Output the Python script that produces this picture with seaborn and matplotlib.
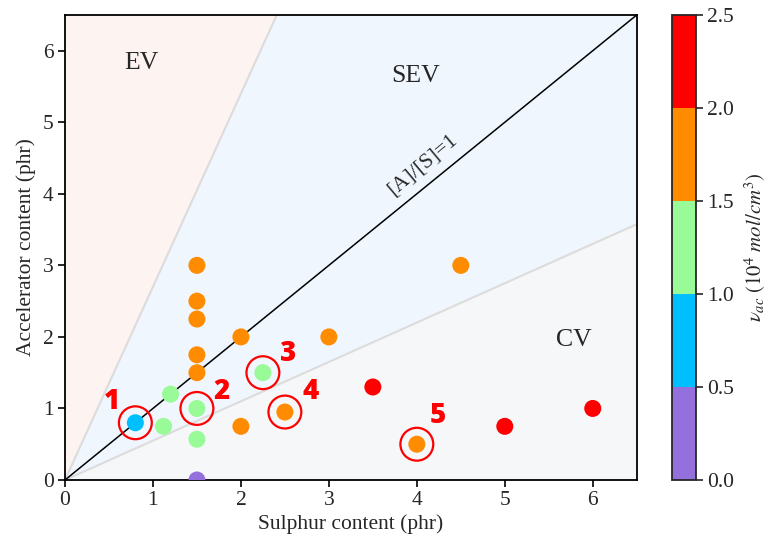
import numpy as np
import pandas as pd
import matplotlib
matplotlib.use("Agg")
import matplotlib.pyplot as plt
from matplotlib.colors import ListedColormap, BoundaryNorm
from matplotlib.cm import ScalarMappable
import seaborn as sns

# Cure formulations: sulphur / accelerator loadings and crosslink density
sulphur = [0.8, 1.12, 1.2, 1.5, 1.5, 1.5, 1.5, 1.5, 1.5, 1.5, 1.5,
           2.0, 2.0, 2.25, 2.5, 3.0, 3.5, 4.0, 4.5, 5.0, 6.0]
accelerator = [0.8, 0.75, 1.2, 1.0, 0.57, 0.0, 1.5, 1.75, 2.25, 2.5, 3.0,
               2.0, 0.75, 1.5, 0.95, 2.0, 1.3, 0.5, 3.0, 0.75, 1.0]
nu_ac = [0.8, 1.2, 1.3, 1.25, 1.2, 0.3, 1.7, 1.75, 1.8, 1.85, 1.9,
         1.8, 1.7, 1.3, 1.75, 1.8, 2.2, 1.6, 1.7, 2.3, 2.2]

# Highlighted samples and their labels
hl_x = [0.8, 1.5, 2.25, 2.5, 4.0]
hl_y = [0.8, 1.0, 1.5, 0.95, 0.5]
hl_labels = ["1", "2", "3", "4", "5"]
hl_label_x = [0.54, 1.78, 2.54, 2.79, 4.24]
hl_label_y = [1.1, 1.23, 1.77, 1.23, 0.9]

# Colour bands for the crosslink density
band_edges = [0.0, 0.5, 1.0, 1.5, 2.0, 2.5]
band_colors = ["#9370DB", "#00BFFF", "#98FB98", "#FF8C00", "#FF0000"]

# Cure-system boundaries ([A]/[S] ratios)
ev_ratio = 2.7
cv_ratio = 0.55
lim = 6.5

sns.set_theme(style="ticks")
plt.rcParams["font.family"] = ["Liberation Serif", "DejaVu Serif"]
plt.rcParams["mathtext.fontset"] = "stix"

cmap = ListedColormap(band_colors)
norm = BoundaryNorm(band_edges, cmap.N)

fig = plt.figure(figsize=(7.69, 5.42), dpi=100)
ax = fig.add_axes([0.0845, 0.1144, 0.7435, 0.858])
cax = fig.add_axes([0.874, 0.1144, 0.031, 0.858])

# Region shading
ax.fill([0, 0, lim / ev_ratio], [0, lim, lim], color="#fdf3f0", lw=0, zorder=0)
ax.fill([0, lim / ev_ratio, lim, lim], [0, lim, lim, lim * cv_ratio],
        color="#f0f6fd", lw=0, zorder=0)
ax.fill([0, lim, lim], [0, lim * cv_ratio, 0], color="#f6f7f9", lw=0, zorder=0)
ax.plot([0, lim / ev_ratio], [0, lim], color="#dcdcdc", lw=1.5, zorder=1)
ax.plot([0, lim], [0, lim * cv_ratio], color="#dcdcdc", lw=1.5, zorder=1)
ax.plot([0, lim], [0, lim], color="black", lw=1.1, zorder=1)

df = pd.DataFrame({"S": sulphur, "A": accelerator, "nu": nu_ac})
point_colors = [band_colors[int(norm(v))] for v in nu_ac]
sns.scatterplot(data=df, x="S", y="A", c=point_colors, s=150,
                edgecolor="none", linewidth=0, ax=ax, zorder=3, legend=False)

sns.scatterplot(x=hl_x, y=hl_y, s=560, facecolor="none", edgecolor="red",
                linewidth=1.6, ax=ax, zorder=4, legend=False)
for t, lx, ly in zip(hl_labels, hl_label_x, hl_label_y):
    ax.text(lx, ly, t, color="red", fontsize=20, fontweight="heavy",
            family=["Open Sans", "DejaVu Sans"], ha="center", va="center",
            zorder=5)

ax.text(0.87, 5.83, "EV", fontsize=18.5, ha="center", va="center")
ax.text(3.99, 5.65, "SEV", fontsize=18.5, ha="center", va="center")
ax.text(5.79, 1.95, "CV", fontsize=18.5, ha="center", va="center")
ax.text(4.07, 4.41, "[A]/[S]=1", fontsize=15.5, ha="center", va="center",
        rotation=40, rotation_mode="anchor")

ax.set_xlim(0, lim)
ax.set_ylim(0, lim)
ax.set_xticks(range(0, 7))
ax.set_yticks(range(0, 7))
ax.set_xlabel("Sulphur content (phr)", fontsize=15.5, labelpad=3)
ax.set_ylabel("Accelerator content (phr)", fontsize=15.5, labelpad=5)
ax.tick_params(labelsize=15.5, direction="out", length=5, width=1.2,
               color="black", pad=3)
for sp in ax.spines.values():
    sp.set_linewidth(1.3)
    sp.set_color("black")

cb = fig.colorbar(ScalarMappable(norm=norm, cmap=cmap), cax=cax,
                  ticks=band_edges)
cb.ax.set_yticklabels([f"{v:.1f}" for v in band_edges])
cb.ax.tick_params(labelsize=15.5, length=5, width=1.2, pad=3)
cb.outline.set_linewidth(1.3)
cb.set_label(r"$\nu_{ac}\ (10^4\ mol/cm^3)$", fontsize=15, labelpad=6)

fig.savefig("out.png", dpi=100)
